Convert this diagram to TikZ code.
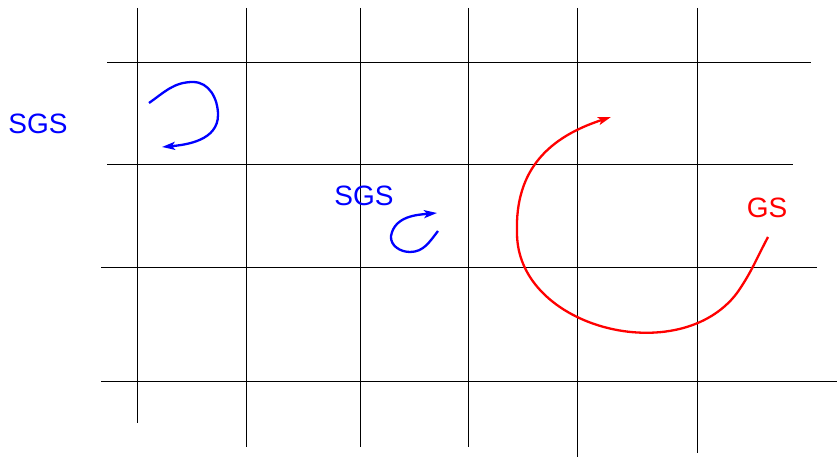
\documentclass[tikz,border=0pt]{standalone}
\usepackage{fontspec}
\setmainfont{Liberation Sans}
\usetikzlibrary{arrows.meta}
\begin{document}
\begin{tikzpicture}[x=1pt,y=1pt,
  gridline/.style={draw=black,line width=0.9pt},
  curvearrow/.style={line width=2.3pt,-{Stealth[length=13pt,width=8pt,inset=3pt]}},
  lbl/.style={inner sep=0pt,font=\fontsize{28}{32}\selectfont}]
\useasboundingbox (0,0) rectangle (837,457);
% vertical lines
\draw[gridline] (137,449) -- (137,34);
\draw[gridline] (246,449) -- (246,10);
\draw[gridline] (360,449) -- (360,10);
\draw[gridline] (468,449) -- (468,10);
\draw[gridline] (577,449) -- (577,0);
\draw[gridline] (697,449) -- (697,4);
% horizontal lines
\draw[gridline] (107,395) -- (811,395);
\draw[gridline] (107,293) -- (793,293);
\draw[gridline] (101,190) -- (817,190);
\draw[gridline] (101,76) -- (837,76);
% labels
\node[lbl,text=blue] (sgsa) at (38,333) {SGS};
\node[lbl,text=blue] (sgsb) at (364,261) {SGS};
\node[lbl,text=red] (gs) at (767,249) {GS};
% blue curve 1
\coordinate (a0) at (149,354);
\coordinate (a1) at (193,375);
\coordinate (a2) at (218,342);
\coordinate (a3) at (162,310);
\draw[curvearrow,blue] (a0) to[out=35,in=180] (a1) to[out=0,in=90] (a2) to[out=-90,in=5] (a3);
% blue curve 2
\coordinate (b0) at (438,226);
\coordinate (b1) at (410,205);
\coordinate (b2) at (391,221);
\coordinate (b3) at (437,244);
\draw[curvearrow,blue] (b0) to[out=-128,in=0] (b1) to[out=180,in=-95] (b2) to[out=80,in=185] (b3);
% red curve
\coordinate (c0) at (768,220);
\coordinate (c1) at (737,164);
\coordinate (c3) at (517,224);
\coordinate (c4) at (611,340);
\draw[curvearrow,red] (c0) to[out=-118,in=55] (c1) to[out=233,in=-90,looseness=1.07] (c3) to[out=92,in=198,looseness=1.1] (c4);
\end{tikzpicture}
\end{document}
